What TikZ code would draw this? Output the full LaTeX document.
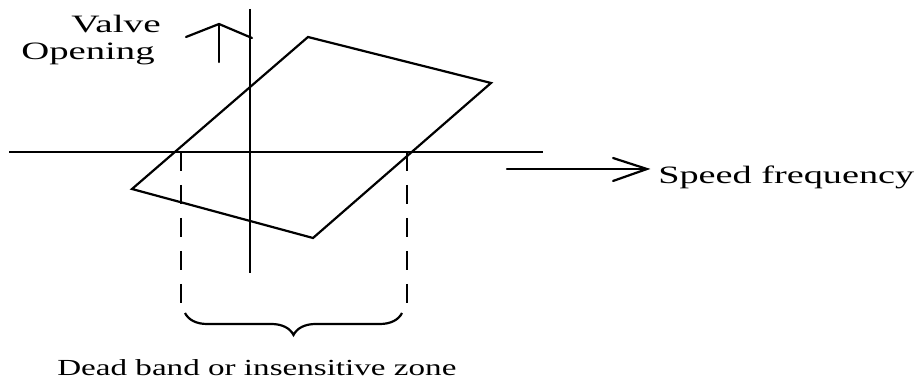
\documentclass[tikz,border=0pt]{standalone}
\usepackage{fontspec}
\setmainfont{Liberation Serif}
\usetikzlibrary{decorations.pathreplacing}
\begin{document}
\begin{tikzpicture}[x=1pt,y=-1pt,
  line/.style={line width=2.2pt,line cap=round,line join=miter},
  axis/.style={line width=2.3pt},
  guide/.style={line width=2.5pt,dash pattern=on 19pt off 14pt},
  label/.style={inner sep=0pt,font=\fontsize{25}{28}\selectfont}]
\useasboundingbox (0,0) rectangle (924,379);

% axes
\coordinate (vtop) at (250,9);
\coordinate (vbot) at (250,273);
\coordinate (hleft) at (9,152);
\coordinate (hright) at (543,152);
\draw[axis] (vtop) -- (vbot);
\draw[axis] (hleft) -- (hright);

% hysteresis loop
\coordinate (pt) at (308,37);
\coordinate (pr) at (491,83);
\coordinate (pb) at (313,238);
\coordinate (pl) at (132,189);
\draw[line] (pl) -- (pt) -- (pr) -- (pb) -- cycle;

% dead band limits
\coordinate (d1a) at (181,152);
\coordinate (d1b) at (181,306);
\coordinate (d2a) at (407,152);
\coordinate (d2b) at (407,306);
\draw[guide] (d1a) -- (d1b);
\draw[guide] (d2a) -- (d2b);

% brace under the dead band
\coordinate (bl) at (185,313);
\coordinate (br) at (402,313);
\draw[line width=2.2pt,decorate,decoration={brace,mirror,amplitude=22pt}] (bl) -- (br);

% valve opening arrow
\coordinate (va) at (219,62);
\coordinate (vb) at (219,24);
\coordinate (vl) at (186,37);
\coordinate (vr) at (252,38);
\draw[line] (va) -- (vb);
\draw[line] (vl) -- (vb) -- (vr);

% speed frequency arrow
\coordinate (sa) at (507,169);
\coordinate (sb) at (647,169);
\coordinate (su) at (613,158);
\coordinate (sd) at (613,181);
\draw[line] (sa) -- (sb);
\draw[line] (su) -- (sb) -- (sd);

% labels
\node[label,anchor=base,xscale=1.57] (valve) at (116,33) {Valve};
\node[label,anchor=base,xscale=1.55] (opening) at (88,60) {Opening};
\node[label,anchor=base west,xscale=1.53] (speed) at (658,184) {Speed frequency};
\node[label,anchor=base west,xscale=1.44,font=\fontsize{23}{26}\selectfont] (dead) at (57,375) {Dead band or insensitive zone};
\end{tikzpicture}
\end{document}
